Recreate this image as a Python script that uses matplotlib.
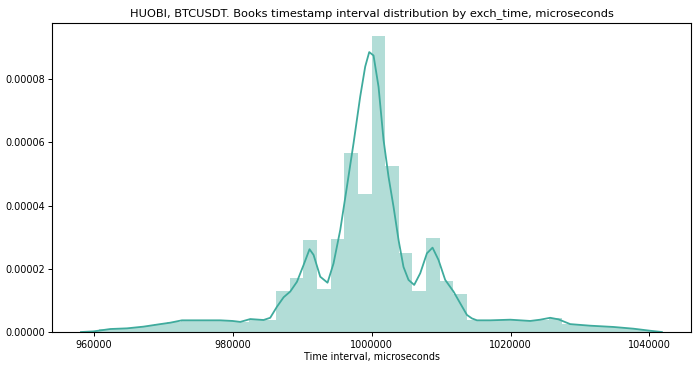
import numpy as np
import matplotlib
matplotlib.use("Agg")
import matplotlib.pyplot as plt
from matplotlib.ticker import FormatStrFormatter

# ---- data ----
bin_start = 958850
bin_width = 1960
bar_heights = [
    0.3e-6, 0.8e-6, 1.1e-6, 1.4e-6, 2.0e-6, 2.6e-6, 3.3e-6, 3.7e-6, 3.7e-6, 3.7e-6,
    3.6e-6, 3.3e-6, 4.0e-6, 3.8e-6,
    1.30e-5, 1.70e-5, 2.92e-5, 1.35e-5, 2.95e-5, 5.67e-5, 4.38e-5, 9.37e-5,
    5.25e-5, 2.50e-5, 1.31e-5, 2.98e-5, 1.60e-5, 1.20e-5,
    3.8e-6, 3.7e-6, 3.8e-6, 3.8e-6, 3.6e-6, 3.9e-6, 4.3e-6, 2.6e-6,
    2.2e-6, 1.9e-6, 1.6e-6, 1.3e-6, 0.9e-6, 0.4e-6,
]

kde_x = [958190, 960000, 962420, 964810, 967190, 969600, 971040, 972720, 975350,
         978230, 980000, 981110, 982550, 984460, 985420, 986390, 987350, 988300,
         989270, 990220, 991080, 991660, 992620, 993670, 994530, 995500, 996460,
         997410, 998370, 999090, 999670, 1000290, 1001010, 1001730, 1002450,
         1003170, 1003890, 1004600, 1005320, 1006140, 1007010, 1007970, 1008780,
         1009640, 1010600, 1011800, 1012760, 1013730, 1014450, 1015170, 1017080,
         1019960, 1022830, 1024270, 1025710, 1026910, 1028590, 1031470, 1034820,
         1037700, 1040100, 1041780]
kde_y = [0.0, 0.2e-6, 0.95e-6, 1.16e-6, 1.7e-6, 2.5e-6, 2.95e-6, 3.7e-6, 3.7e-6,
         3.7e-6, 3.5e-6, 3.2e-6, 4.1e-6, 3.8e-6, 4.5e-6, 8.0e-6, 1.10e-5, 1.28e-5,
         1.59e-5, 2.12e-5, 2.62e-5, 2.44e-5, 1.75e-5, 1.56e-5, 2.17e-5, 3.23e-5,
         4.6e-5, 5.97e-5, 7.45e-5, 8.4e-5, 8.86e-5, 8.75e-5, 7.76e-5, 6.08e-5,
         4.91e-5, 3.96e-5, 2.91e-5, 2.06e-5, 1.65e-5, 1.49e-5, 1.86e-5, 2.49e-5,
         2.67e-5, 2.28e-5, 1.65e-5, 1.28e-5, 9.1e-6, 5.4e-6, 4.3e-6, 3.7e-6,
         3.7e-6, 3.9e-6, 3.5e-6, 3.9e-6, 4.5e-6, 4.0e-6, 2.5e-6, 2.0e-6, 1.6e-6,
         1.05e-6, 0.4e-6, 0.0]

title = "HUOBI, BTCUSDT. Books timestamp interval distribution by exch_time, microseconds"
xlabel = "Time interval, microseconds"
y_ticks = [0.0, 0.00002, 0.00004, 0.00006, 0.00008]
x_ticks = [960000, 980000, 1000000, 1020000, 1040000]

# ---- plot ----
color = "#3fab9d"
fig = plt.figure(figsize=(7.0, 3.68), dpi=100)
ax = fig.add_axes([0.0747, 0.0978, 0.9123, 0.8397])

edges = bin_start + bin_width * np.arange(len(bar_heights))
ax.bar(edges, bar_heights, width=bin_width, align="edge", color=color, alpha=0.4,
       linewidth=0)
ax.plot(kde_x, kde_y, color=color, linewidth=1.3)

ax.set_xlim(954060, 1045960)
ax.set_ylim(0, 9.78e-5)
ax.set_xticks(x_ticks)
ax.set_yticks(y_ticks)
ax.xaxis.set_major_formatter(FormatStrFormatter("%d"))
ax.yaxis.set_major_formatter(FormatStrFormatter("%.5f"))
ax.tick_params(labelsize=6.9, length=3, width=0.7, pad=2.5)
ax.set_title(title, fontsize=8.2, pad=5)
ax.set_xlabel(xlabel, fontsize=6.9, labelpad=2)
for s in ax.spines.values():
    s.set_linewidth(0.8)

fig.savefig("out.png", dpi=100)
